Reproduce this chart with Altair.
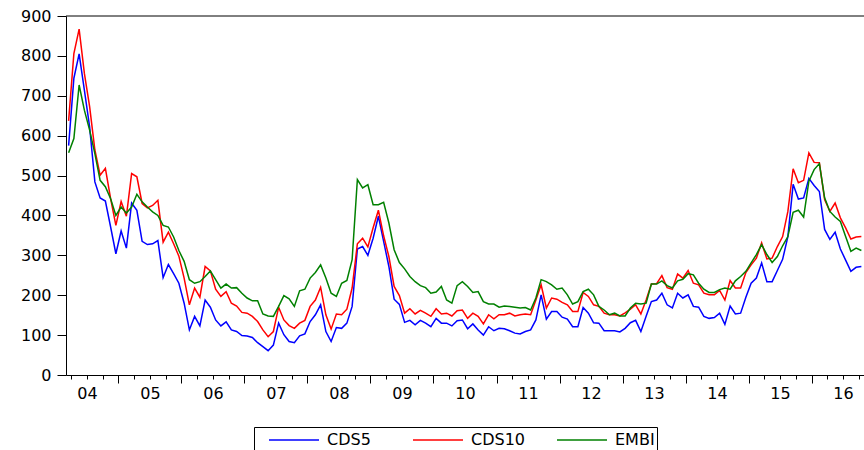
import json
import altair as alt
import pandas as pd

# ---------------- data (monthly, Mar 2004 - Oct 2016) ----------------
START_MONTH = "2004-03-01"
N_MONTHS = 152

SERIES = ["CDS5", "CDS10", "EMBI"]
COLORS = ["#0000FF", "#FF0000", "#008000"]

CDS5 = [575, 744, 805, 714, 622, 484, 444, 436, 371, 304, 361, 318, 431, 413, 335, 327, 329, 337, 244, 277, 254, 230,
        180, 113, 147, 123, 188, 170, 138, 123, 133, 113, 109, 99, 98, 94, 81, 71, 61, 75, 130, 101, 84,
        81, 98, 103, 134, 151, 176, 109, 84, 119, 117, 130, 172, 316, 322, 300, 343, 398, 335, 272, 190, 177, 132,
        137, 126, 137, 130, 121, 142, 130, 130, 123, 136, 138, 116, 128, 113, 100, 121, 111, 117, 116, 111, 105,
        103, 109, 113, 138, 201, 140, 159, 159, 145, 140, 121, 121, 169, 155, 131, 130, 111, 111, 111, 108, 117,
        131, 137, 109, 147, 184, 188, 205, 176, 168, 205, 193, 201, 172, 170, 147, 142, 144, 155, 127, 173, 153, 155,
        195, 230, 243, 281, 234, 234, 262, 290, 347, 478, 441, 444, 493, 475, 460, 365, 340, 358, 316, 288, 260, 270, 272]

CDS10 = [637, 806, 867, 756, 673, 564, 501, 518, 442, 375, 435, 398, 505, 497, 430, 419, 425, 438, 333, 358, 329, 298,
         243, 176, 218, 195, 272, 261, 215, 197, 209, 180, 173, 157, 155, 147, 134, 113, 96, 109, 170, 138, 124,
         117, 130, 137, 172, 188, 220, 151, 115, 153, 151, 165, 218, 329, 343, 321, 369, 413, 349, 297, 222, 199, 155,
         166, 153, 162, 155, 147, 166, 153, 155, 148, 161, 163, 142, 155, 147, 128, 151, 141, 151, 151, 155, 148,
         151, 153, 151, 188, 226, 168, 193, 190, 182, 176, 159, 159, 207, 197, 176, 172, 155, 151, 151, 148, 156,
         165, 176, 153, 188, 228, 229, 249, 219, 215, 253, 243, 262, 230, 226, 205, 201, 201, 212, 188, 237, 218, 218,
         257, 276, 293, 331, 291, 293, 322, 347, 410, 517, 482, 488, 557, 533, 532, 440, 410, 431, 394, 369, 341, 346, 347]

EMBI = [557, 593, 727, 664, 614, 555, 488, 472, 442, 400, 421, 406, 421, 453, 434, 421, 409, 400, 375, 371, 346, 312,
        285, 239, 230, 234, 247, 261, 239, 218, 228, 218, 219, 205, 193, 186, 186, 153, 148, 147, 172, 199, 191,
        172, 211, 215, 243, 257, 276, 243, 205, 197, 230, 237, 289, 490, 469, 477, 427, 427, 433, 381, 314, 282, 266,
        247, 234, 224, 219, 205, 208, 222, 188, 180, 224, 234, 222, 207, 209, 184, 178, 178, 170, 173, 172, 170,
        168, 169, 163, 193, 239, 234, 226, 215, 218, 201, 178, 184, 209, 215, 201, 172, 163, 151, 155, 148, 148,
        168, 180, 178, 180, 228, 228, 236, 224, 218, 236, 240, 254, 251, 230, 215, 207, 207, 214, 218, 215, 236, 247,
        260, 281, 302, 327, 302, 282, 297, 324, 347, 408, 413, 396, 486, 515, 530, 444, 410, 396, 385, 347, 310, 318, 312]

YEAR_LABELS = ["04", "05", "06", "07", "08", "09", "10", "11", "12", "13", "14", "15", "16"]
FIRST_YEAR = 2004
Y_TICKS = [0, 100, 200, 300, 400, 500, 600, 700, 800, 900]

# ---------------- build table ----------------
months = pd.date_range(START_MONTH, periods=N_MONTHS, freq="MS")
t = [d.year + (d.month - 0.5) / 12 for d in months]
wide = pd.DataFrame({"t": t, "CDS5": CDS5, "CDS10": CDS10, "EMBI": EMBI})
df = wide.melt("t", var_name="series", value_name="value")

# quarter boundaries for ticks; labels at mid-year
q_ticks = [FIRST_YEAR + k / 4 for k in range(1, 4 * len(YEAR_LABELS))]
label_expr = (
    "(datum.value % 1 == 0.5) ? " + json.dumps(YEAR_LABELS) +
    "[floor(datum.value) - " + str(FIRST_YEAR) + "] : ''"
)

x_dom = [2004 + 2 / 12, 2016 + 10 / 12]

lines = alt.Chart(df).mark_line(strokeWidth=1.5, clip=True).encode(
    x=alt.X(
        "t:Q",
        title=None,
        scale=alt.Scale(domain=x_dom, nice=False, zero=False),
        axis=alt.Axis(
            values=q_ticks,
            labelExpr=label_expr,
            labelOverlap=False,
            labelFlush=False,
            tickSize={"condition": {"test": "datum.value % 1 == 0", "value": 8}, "value": 4},
            labelPadding=6,
            domainColor="black",
            tickColor="black",
        ),
    ),
    y=alt.Y(
        "value:Q",
        title=None,
        scale=alt.Scale(domain=[0, 900], nice=False),
        axis=alt.Axis(values=Y_TICKS, tickSize=9, labelPadding=6, domainColor="black", tickColor="black"),
    ),
    color=alt.Color(
        "series:N",
        scale=alt.Scale(domain=SERIES, range=COLORS),
        sort=SERIES,
        legend=alt.Legend(
            title=None,
            orient="none",
            legendX=188,
            legendY=411,
            direction="horizontal",
            columns=3,
            padding=2,
            strokeColor="black",
            fillColor="white",
            symbolType="M-2.5,0H2.5",
            symbolSize=400,
            symbolStrokeWidth=1.5,
            symbolOffset=27,
            labelOffset=22,
            labelFont="DejaVu Sans",
            labelFontSize=16,
            labelColor="black",
            columnPadding=18,
            gridAlign="all",
        ),
    ),
)

border = alt.Chart(pd.DataFrame({"a": [0]})).mark_rule(color="black", strokeWidth=1).encode(
    x=alt.value(0), x2=alt.value(798), y=alt.value(0)
)

chart = (
    alt.layer(lines, border)
    .properties(
        width=798,
        height=359,
        autosize=alt.AutoSizeParams(type="none"),
        padding={"left": 66, "top": 16, "right": 0, "bottom": 75},
        background="white",
    )
    .configure_view(stroke=None)
    .configure_axis(
        grid=False,
        labelFont="DejaVu Sans",
        labelFontSize=16,
        labelColor="black",
        domainWidth=1,
    )
)

chart.save("out.html", embed_options={"renderer": "svg", "actions": False})
